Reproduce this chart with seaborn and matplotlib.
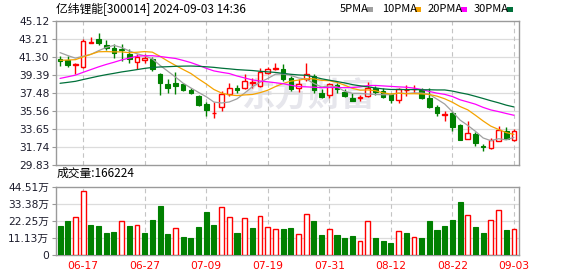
import numpy as np
import pandas as pd
import matplotlib
matplotlib.use("Agg")
import matplotlib.pyplot as plt
import seaborn as sns
from matplotlib.patches import Rectangle

# ---------------- data ----------------
dates = ["06-12", "06-13", "06-14", "06-17", "06-18", "06-19", "06-20", "06-21", "06-24", "06-25",
         "06-26", "06-27", "06-28", "07-01", "07-02", "07-03", "07-04", "07-05", "07-08", "07-09",
         "07-10", "07-11", "07-12", "07-15", "07-16", "07-17", "07-18", "07-19", "07-22", "07-23",
         "07-24", "07-25", "07-26", "07-29", "07-30", "07-31", "08-01", "08-02", "08-05", "08-06",
         "08-07", "08-08", "08-09", "08-12", "08-13", "08-14", "08-15", "08-16", "08-19", "08-20",
         "08-21", "08-22", "08-23", "08-26", "08-27", "08-28", "08-29", "08-30", "09-02", "09-03"]

opens = [41.06, 40.95, 40.46, 40.24, 42.79, 43.25, 42.58, 42.22, 42.12, 41.66,
         40.81, 40.99, 41.06, 39.47, 38.48, 38.55, 38.41, 37.77, 37.20, 36.29,
         35.30, 36.00, 37.35, 37.98, 38.05, 38.55, 38.23, 39.61, 40.02, 40.07,
         39.11, 38.05, 38.94, 39.33, 37.52, 37.28, 38.34, 37.63, 36.99, 36.99,
         37.20, 38.05, 37.70, 37.35, 36.71, 37.77, 37.85, 37.77, 36.92, 36.00,
         35.18, 35.30, 34.06, 32.57, 33.11, 31.80, 31.64, 32.37, 33.41, 32.44]
highs = [41.37, 41.41, 40.70, 43.18, 43.42, 43.88, 43.14, 42.75, 42.72, 42.12,
         41.59, 41.59, 41.30, 39.64, 38.94, 39.75, 38.58, 38.05, 37.28, 36.47,
         36.50, 37.70, 38.58, 38.30, 39.54, 39.04, 40.17, 40.24, 40.70, 40.60,
         39.29, 39.00, 40.70, 39.47, 37.88, 38.58, 38.58, 37.88, 37.52, 37.28,
         38.69, 38.23, 38.05, 37.52, 38.05, 38.34, 38.34, 38.05, 38.05, 36.22,
         35.51, 35.51, 34.17, 34.45, 33.29, 32.00, 32.68, 33.93, 33.82, 33.65]
lows = [40.35, 40.24, 39.47, 40.10, 42.79, 42.58, 42.05, 41.23, 40.88, 40.70,
        40.00, 40.70, 39.82, 37.28, 37.52, 37.35, 37.70, 37.35, 36.11, 34.98,
        34.80, 35.58, 37.20, 37.52, 37.88, 38.05, 38.13, 39.47, 39.90, 38.76,
        37.70, 37.63, 38.76, 37.52, 36.92, 36.92, 37.52, 37.03, 36.57, 36.64,
        37.03, 37.28, 36.92, 36.46, 36.46, 37.20, 37.52, 36.81, 35.86, 35.05,
        34.52, 33.39, 32.47, 32.57, 31.87, 31.30, 31.50, 32.33, 32.54, 32.33]
closes = [40.88, 40.46, 40.60, 43.07, 42.93, 42.82, 42.22, 41.69, 42.01, 41.06,
          41.30, 41.16, 40.00, 38.58, 37.98, 38.19, 37.84, 37.49, 36.22, 35.65,
          35.35, 37.35, 38.05, 37.84, 38.76, 38.68, 39.75, 40.07, 40.12, 38.94,
          37.88, 38.41, 39.47, 37.77, 37.06, 38.41, 37.88, 37.20, 36.64, 37.06,
          38.05, 37.63, 37.06, 36.71, 37.88, 37.84, 37.95, 36.99, 36.00, 35.30,
          35.25, 33.88, 32.50, 33.18, 32.12, 31.70, 32.44, 33.55, 32.61, 33.41]
prev_close = 41.90  # close of the day before the window

volumes_wan = [18.9, 22.1, 24.5, 41.7, 19.5, 18.9, 14.5, 15.2, 21.9, 18.9,
               19.3, 14.5, 22.8, 31.9, 13.7, 17.4, 11.7, 11.1, 18.2, 28.0,
               19.5, 31.0, 24.5, 14.5, 23.9, 17.6, 25.2, 18.0, 16.7, 16.9,
               17.6, 13.5, 26.7, 22.1, 13.0, 16.7, 13.0, 11.1, 12.4, 9.1,
               21.9, 11.1, 9.1, 7.8, 15.6, 14.5, 11.5, 11.1, 22.1, 16.3,
               18.9, 22.8, 34.5, 25.8, 18.2, 14.5, 22.6, 29.1, 16.3, 16.62]

ma5 = [41.78, 41.47, 41.19, 41.40, 41.59, 41.98, 42.33, 42.55, 42.33, 41.96,
       41.66, 41.44, 41.11, 40.42, 39.80, 39.18, 38.52, 38.02, 37.54, 37.08,
       36.51, 36.41, 36.52, 36.85, 37.47, 38.14, 38.62, 39.02, 39.48, 39.51,
       39.35, 39.08, 38.96, 38.49, 38.12, 38.22, 38.12, 37.66, 37.44, 37.44,
       37.37, 37.32, 37.29, 37.30, 37.47, 37.42, 37.49, 37.47, 37.33, 36.82,
       36.30, 35.48, 34.59, 34.02, 33.39, 32.68, 32.39, 32.60, 32.48, 32.74]
ma10 = [40.96, 40.99, 41.03, 41.32, 41.60, 41.87, 41.89, 41.86, 41.86, 41.77,
        41.82, 41.89, 41.83, 41.38, 40.88, 40.42, 39.98, 39.56, 38.98, 38.44,
        37.85, 37.47, 37.27, 37.20, 37.27, 37.32, 37.51, 37.77, 38.16, 38.49,
        38.74, 38.85, 38.99, 38.99, 38.82, 38.79, 38.60, 38.31, 37.97, 37.78,
        37.80, 37.72, 37.48, 37.37, 37.45, 37.40, 37.40, 37.38, 37.32, 37.14,
        36.86, 36.49, 36.03, 35.68, 35.10, 34.49, 33.94, 33.59, 33.25, 33.06]
ma20 = [39.03, 39.20, 39.38, 39.68, 39.97, 40.26, 40.52, 40.75, 41.00, 41.20,
        41.40, 41.45, 41.45, 41.37, 41.26, 41.16, 40.95, 40.72, 40.43, 40.11,
        39.83, 39.68, 39.55, 39.29, 39.08, 38.87, 38.75, 38.67, 38.57, 38.47,
        38.30, 38.16, 38.13, 38.09, 38.04, 38.06, 38.06, 38.04, 38.06, 38.13,
        38.27, 38.28, 38.23, 38.18, 38.13, 38.09, 38.00, 37.85, 37.64, 37.46,
        37.33, 37.10, 36.75, 36.52, 36.28, 35.94, 35.67, 35.49, 35.29, 35.10]
ma30 = [38.51, 38.61, 38.72, 38.91, 39.09, 39.27, 39.43, 39.57, 39.72, 39.84,
        39.97, 40.10, 40.20, 40.25, 40.28, 40.32, 40.34, 40.35, 40.32, 40.27,
        40.21, 40.12, 40.05, 39.97, 39.92, 39.87, 39.79, 39.73, 39.67, 39.57,
        39.47, 39.40, 39.36, 39.19, 38.99, 38.84, 38.70, 38.55, 38.37, 38.24,
        38.13, 38.01, 37.91, 37.85, 37.85, 37.84, 37.84, 37.82, 37.82, 37.80,
        37.80, 37.68, 37.50, 37.34, 37.12, 36.89, 36.65, 36.43, 36.18, 35.99]

price_ticks = [29.83, 31.74, 33.65, 35.56, 37.48, 39.39, 41.30, 43.21, 45.12]
vol_ticks = [0, 11.13, 22.25, 33.38, 44.51]
vol_tick_labels = ["0", "11.13万", "22.25万", "33.38万", "44.51万"]
x_tick_labels = ["06-17", "06-27", "07-09", "07-19", "07-31", "08-12", "08-22", "09-03"]
ma_names = ["5PMA", "10PMA", "20PMA", "30PMA"]
title_text = "亿纬锂能[300014] 2024-09-03 14:36"
vol_title = "成交量:166224"
watermark = "东方财富"

# ---------------- style ----------------
sns.set_theme(style="white")
plt.rcParams["font.family"] = ["DejaVu Sans", "Noto Sans CJK SC"]
plt.rcParams["axes.unicode_minus"] = False

RED = "#ff0000"
GREEN = "#008000"
MA_COLORS = ["#a0a0a0", "#f5a300", "#ff00ff", "#00703a"]
BORDER = "#9a9a9a"
GRID = "#dcdcdc"
VGRID = "#c4c4c4"

W, H = 578, 276
fig = plt.figure(figsize=(W / 100, H / 100), dpi=100)
fig.patch.set_facecolor("white")


def rect(l, t, r, b):
    return [l / W, 1 - b / H, (r - l) / W, (b - t) / H]


ax = fig.add_axes(rect(55.5, 21.3, 519, 164.7))
axv = fig.add_axes(rect(55.5, 186.5, 519, 255))

n = len(dates)
x = np.arange(n)
o = np.array(opens); c = np.array(closes); hi = np.array(highs); lo = np.array(lows)
up = c >= o
prevs = np.concatenate([[prev_close], c[:-1]])
vol_up = c > prevs

label_pos = [dates.index(d) for d in x_tick_labels]
xlim = (-0.59, 59.66)

for a in (ax, axv):
    a.set_facecolor("white")
    for s in a.spines.values():
        s.set_color(BORDER)
        s.set_linewidth(1.0)
    for p in label_pos:
        a.axvline(p, color=VGRID, lw=0.8, ls=(0, (4, 3)), zorder=0.5)
    a.set_xlim(*xlim)

# watermark
ax.text(0.545, 0.47, watermark, transform=ax.transAxes, fontsize=24, fontweight="bold",
        family=["Noto Sans CJK SC"], color="#e6e6ec", ha="center", va="center", zorder=0.3,
        fontstyle="italic")

# ---------------- price panel ----------------
ax.set_ylim(price_ticks[0], price_ticks[-1])
ax.set_yticks(price_ticks)
ax.set_yticklabels([f"{t:.2f}" for t in price_ticks])
for t in price_ticks[1:-1]:
    ax.axhline(t, color=GRID, lw=0.9, zorder=0.4)

bw = 0.6
body_bottom = np.minimum(o, c)
body_top = np.maximum(o, c)
body_h = np.maximum(body_top - body_bottom, 0.02)

# green candles: full wick + filled body
g = ~up
ax.vlines(x[g], lo[g], hi[g], color=GREEN, lw=1.0, zorder=2)
ax.bar(x[g], body_h[g], bottom=body_bottom[g], width=bw, color=GREEN, edgecolor=GREEN,
       linewidth=0.8, zorder=3)
# red candles: hollow body, wicks outside body
r = up
ax.vlines(x[r], body_top[r], hi[r], color=RED, lw=1.0, zorder=2)
ax.vlines(x[r], lo[r], body_bottom[r], color=RED, lw=1.0, zorder=2)
ax.bar(x[r], body_h[r], bottom=body_bottom[r], width=bw, color="white", edgecolor=RED,
       linewidth=1.0, zorder=3)

ma_df = pd.DataFrame({"x": x, "5PMA": ma5, "10PMA": ma10, "20PMA": ma20, "30PMA": ma30})
for name, col in zip(ma_names, MA_COLORS):
    sns.lineplot(data=ma_df, x="x", y=name, ax=ax, color=col, linewidth=0.9, legend=False,
                 zorder=4)

ax.set_xlabel(""); ax.set_ylabel("")
ax.set_xticks([])
ax.tick_params(axis="y", which="both", left=True, length=3, width=0.8, color=BORDER,
               labelsize=7.7, labelcolor="#1c1c2c", pad=1.5)

# ---------------- volume panel ----------------
axv.set_ylim(0, vol_ticks[-1])
axv.set_yticks(vol_ticks)
axv.set_yticklabels(vol_tick_labels)
for t in vol_ticks[1:-1]:
    axv.axhline(t, color=GRID, lw=0.9, zorder=0.4)

vol = np.array(volumes_wan)
axv.bar(x[~vol_up], vol[~vol_up], width=0.66, color=GREEN, edgecolor=GREEN, linewidth=0.8,
        zorder=3)
axv.bar(x[vol_up], vol[vol_up], width=0.62, color="white", edgecolor=RED, linewidth=1.0,
        zorder=3)

axv.set_xticks(label_pos)
axv.set_xticklabels(x_tick_labels)
axv.tick_params(axis="x", length=0, labelsize=7.7, labelcolor=RED, pad=4)
axv.tick_params(axis="y", left=True, length=3, width=0.8, color=BORDER, labelsize=7.7,
                labelcolor="#1c1c2c", pad=1.5)

# ---------------- header texts ----------------
cjk = ["Noto Sans CJK SC", "DejaVu Sans"]
fig.text(56 / W, 1 - 9.5 / H, title_text, fontsize=8.5, family=cjk, color="#000000",
         ha="left", va="center")
fig.text(57 / W, 1 - 173.5 / H, vol_title, fontsize=8.5, family=cjk, color="#000000",
         ha="left", va="center")

leg_text_x = [340, 382, 428, 474]
leg_sq_x = [367, 415, 461, 507]
for name, col, tx, sx in zip(ma_names, MA_COLORS, leg_text_x, leg_sq_x):
    fig.text(tx / W, 1 - 9.5 / H, name, fontsize=8.0, family=cjk, color="#000000",
             ha="left", va="center")
    fig.patches.append(Rectangle((sx / W, 1 - 12 / H), 6 / W, 5 / H, transform=fig.transFigure,
                                 facecolor=col, edgecolor="none"))

fig.savefig("out.png", dpi=100, facecolor="white")
